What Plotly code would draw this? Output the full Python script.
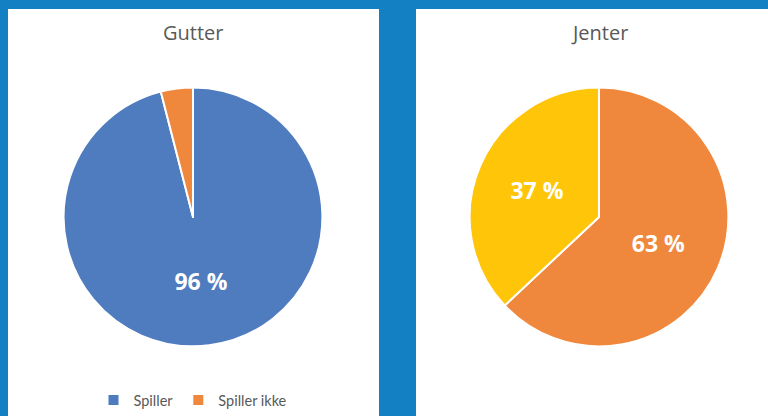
import plotly.graph_objects as go

categories = ["Spiller", "Spiller ikke"]
gutter_values = [96, 4]
jenter_values = [63, 37]
gutter_labels = ["96 %", ""]
jenter_labels = ["63 %", "37 %"]
titles = ["Gutter", "Jenter"]

gutter_colors = ["#4F7BBF", "#EF883C"]
jenter_colors = ["#EF883C", "#FFC508"]

W, H = 768, 416
fig = go.Figure()

fig.add_trace(go.Pie(
    labels=categories, values=gutter_values, text=gutter_labels,
    textinfo="text", textposition="inside", insidetextorientation="horizontal",
    sort=False, direction="clockwise", rotation=0,
    marker=dict(colors=gutter_colors, line=dict(color="white", width=2)),
    textfont=dict(color="white", size=23, family="Open Sans", weight="bold"),
    domain=dict(x=[63 / W, 323 / W], y=[(H - 348) / H, (H - 88) / H]),
    legend="legend", hoverinfo="label+percent",
))
fig.add_trace(go.Pie(
    labels=categories, values=jenter_values, text=jenter_labels,
    textinfo="text", textposition="inside", insidetextorientation="horizontal",
    sort=False, direction="clockwise", rotation=0,
    marker=dict(colors=jenter_colors, line=dict(color="white", width=2)),
    textfont=dict(color="white", size=23, family="Open Sans", weight="bold"),
    domain=dict(x=[469 / W, 729 / W], y=[(H - 348) / H, (H - 88) / H]),
    legend="legend2", hoverinfo="label+percent",
))

# white panels
fig.add_shape(type="rect", xref="paper", yref="paper", x0=8 / W, x1=379 / W,
              y0=-0.1, y1=(H - 9) / H, fillcolor="white", line_width=0, layer="below")
fig.add_shape(type="rect", xref="paper", yref="paper", x0=416 / W, x1=1.1,
              y0=-0.1, y1=(H - 9) / H, fillcolor="white", line_width=0, layer="below")

for cx, t in zip([193, 599], titles):
    fig.add_annotation(text=t, x=cx / W, y=(H - 33) / H, xref="paper", yref="paper",
                       showarrow=False, xanchor="center", yanchor="middle",
                       font=dict(size=20, color="#595959", family="Open Sans"))

legend_style = dict(orientation="h", xanchor="center", yanchor="middle",
                    y=(H - 402) / H, bgcolor="rgba(0,0,0,0)",
                    font=dict(size=14.5, color="#595959", family="Lato"),
                    itemwidth=30)
fig.update_layout(
    width=W, height=H,
    margin=dict(l=0, r=0, t=0, b=0),
    paper_bgcolor="#1380C4",
    plot_bgcolor="#1380C4",
    showlegend=True,
    legend=dict(x=193 / W, **legend_style),
    legend2=dict(x=599 / W, **legend_style),
)

fig.write_html("out.html", config={"displayModeBar": False},
               post_script="document.body.style.margin='0';document.body.style.overflow='hidden';")
